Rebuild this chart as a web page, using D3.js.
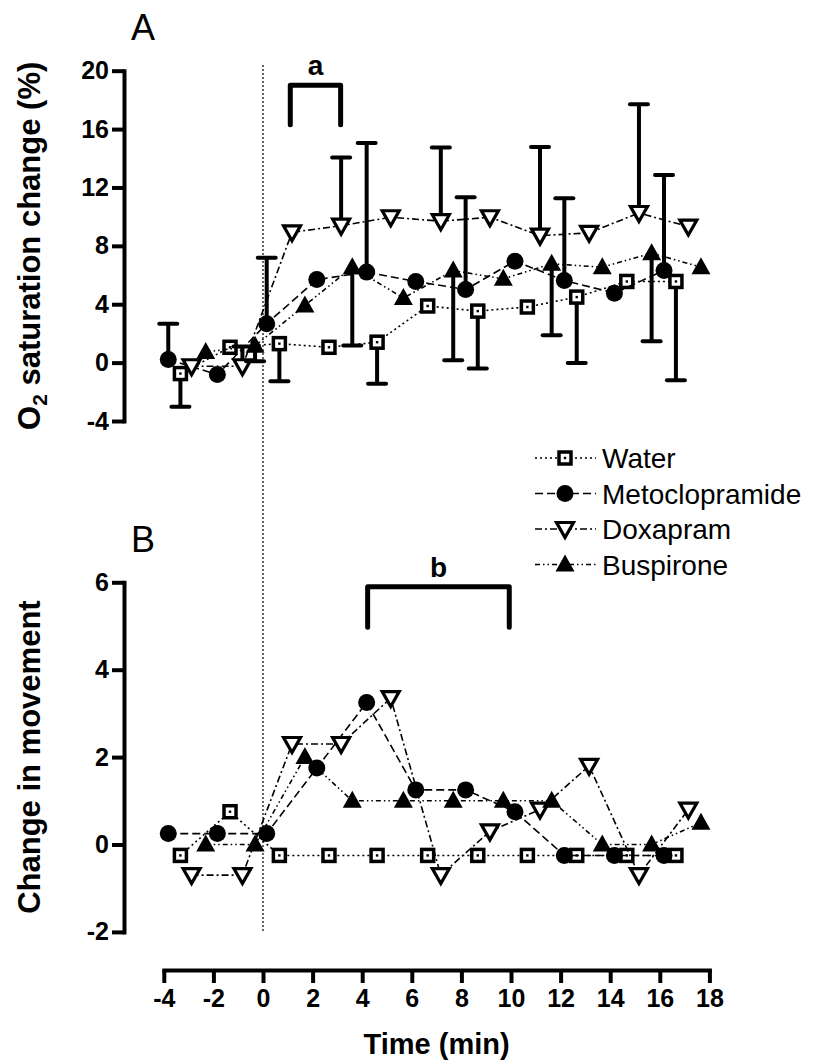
<!DOCTYPE html>
<html><head><meta charset="utf-8">
<script src="https://cdn.jsdelivr.net/npm/d3@7"></script>
<style>
body{margin:0;background:#fff;}
svg text{font-family:"Liberation Sans",Arial,sans-serif;fill:#000;}
</style></head>
<body>
<svg id="chart" width="829" height="1064"></svg>
<script>
// ---------- data ----------
const seriesNames = ["Water", "Metoclopramide", "Doxapram", "Buspirone"];
// plotted time positions (min), each group slightly offset as in the figure
const xWater = [-3.33,-1.33,0.66,2.66,4.6,6.64,8.66,10.66,12.65,14.67,16.65];
const xMet   = [-3.82,-1.84,0.15,2.17,4.18,6.16,8.17,10.16,12.15,14.17,16.17];
const xDox   = [-2.88,-0.83,1.17,3.15,5.15,7.17,9.15,11.17,13.15,15.16,17.15];
const xBus   = [-2.31,-0.32,1.69,3.6,5.66,7.67,9.69,11.64,13.68,15.67,17.66];
// Panel A: O2 saturation change (%)
const waterA = [-0.75,1.05,1.3,1.05,1.4,3.88,3.53,3.81,4.49,5.56,5.56];
const metA   = [0.21,-0.82,2.67,5.69,6.2,5.56,5.01,6.95,5.63,4.76,6.31];
const doxA   = [-0.25,-0.25,8.93,9.38,9.96,9.69,9.96,8.7,8.89,10.25,9.32];
const busA   = [0.73,1.15,3.92,6.54,4.42,6.31,5.74,6.77,6.54,7.5,6.54];
// one-sided error bars (SEM); Water & Buspirone drawn downward, Metoclopramide & Doxapram upward
const waterSemA = [2.28,null,2.58,null,2.84,null,3.94,null,4.51,null,6.77];
const metSemA   = [2.46,null,4.51,null,8.84,null,6.32,null,5.63,null,6.54];
const doxSemA   = [null,1.35,null,4.68,null,5.05,null,6.08,null,7.45,null];
const busSemA   = [null,1.06,null,5.36,null,6.15,null,4.9,null,6.04,null];
// Panel B: change in movement
const waterB = [-0.25,0.75,-0.25,-0.25,-0.25,-0.25,-0.25,-0.25,-0.25,-0.25,-0.25];
const metB   = [0.25,0.25,0.25,1.75,3.25,1.25,1.25,0.75,-0.25,-0.25,-0.25];
const doxB   = [-0.7,-0.7,2.3,2.3,3.35,-0.7,0.3,0.8,1.8,-0.7,0.8];
const busB   = [0,0,2,1,1,1,1,1,0,0,0.5];
// ticks
const xTicks = [-4,-2,0,2,4,6,8,10,12,14,16,18];
const yTicksA = [-4,0,4,8,12,16,20];
const yTicksB = [-2,0,2,4,6];
// significance brackets [x0, x1, yTop, yLegs]
const bracketA = [1.1, 3.13, 19.0, 16.3];
const bracketB = [4.22, 9.93, 5.9, 4.97];

// ---------- scales ----------
const svg = d3.select("#chart");
const x = d3.scaleLinear().domain([-4,18]).range([163.8,709.4]);
const yA = d3.scaleLinear().domain([-4,20]).range([421,70.7]);
const yB = d3.scaleLinear().domain([-2,6]).range([931.9,582.3]);
const axisX = 124;
const FONT = '"Liberation Sans",Arial,sans-serif';
const fmt = d => String(d);   // plain hyphen-minus like the original

const styles = {
  Water: {dash:"2,3", sym:"square"},
  Metoclopramide: {dash:"8,4", sym:"circle"},
  Doxapram: {dash:"7,3,2,3", sym:"tridown"},
  Buspirone: {dash:"5,3,1.5,3,1.5,3", sym:"triup"}
};

function drawSymbol(g, sym, cx, cy){
  if(sym==="square"){
    g.append("rect").attr("x",cx-6).attr("y",cy-6).attr("width",12).attr("height",12)
      .attr("fill","#fff").attr("stroke","#000").attr("stroke-width",3.5);
    g.append("rect").attr("x",cx-1.2).attr("y",cy-1.2).attr("width",2.4).attr("height",2.4).attr("fill","#000");
  } else if(sym==="circle"){
    g.append("circle").attr("cx",cx).attr("cy",cy).attr("r",8.5).attr("fill","#000");
  } else if(sym==="tridown"){
    const p = d3.path(); p.moveTo(cx-8.5,cy-6.5); p.lineTo(cx+8.5,cy-6.5); p.lineTo(cx,cy+8.5); p.closePath();
    g.append("path").attr("d",p.toString()).attr("fill","#fff").attr("stroke","#000").attr("stroke-width",3.2).attr("stroke-linejoin","miter");
  } else if(sym==="triup"){
    const p = d3.path(); p.moveTo(cx-9.5,cy+7); p.lineTo(cx+9.5,cy+7); p.lineTo(cx,cy-10); p.closePath();
    g.append("path").attr("d",p.toString()).attr("fill","#000");
  }
}

function drawSeries(g, name, xs, ys, y, sems, dir){
  const st = styles[name];
  const pts = xs.map((t,i)=>[x(t), y(ys[i])]);
  g.append("path").attr("d", d3.line()(pts)).attr("fill","none")
    .attr("stroke","#000").attr("stroke-width",1.6).attr("stroke-dasharray",st.dash);
  if(sems){
    sems.forEach((s,i)=>{
      if(s==null) return;
      const y0 = y(ys[i]), y1 = y(ys[i] + dir*s);
      g.append("line").attr("x1",x(xs[i])).attr("x2",x(xs[i])).attr("y1",y0).attr("y2",y1)
        .attr("stroke","#000").attr("stroke-width",4);
      g.append("line").attr("x1",x(xs[i])-9).attr("x2",x(xs[i])+9).attr("y1",y1).attr("y2",y1)
        .attr("stroke","#000").attr("stroke-width",4).attr("stroke-linecap","round");
    });
  }
  pts.forEach(p=>drawSymbol(g, st.sym, p[0], p[1]));
}

function yAxis(y, ticks){
  const g = svg.append("g").attr("transform",`translate(${axisX},0)`)
    .call(d3.axisLeft(y).tickValues(ticks).tickSize(12).tickSizeOuter(0).tickPadding(3).tickFormat(fmt));
  g.select(".domain").attr("stroke","#000").attr("stroke-width",4).attr("stroke-linecap","square");
  g.selectAll(".tick line").attr("stroke","#000").attr("stroke-width",4);
  g.selectAll(".tick text").attr("font-family",FONT).attr("font-size",25).attr("font-weight","bold").attr("fill","#000");
}

// dotted vertical reference line at time 0
svg.append("line").attr("x1",x(0)).attr("x2",x(0)).attr("y1",65).attr("y2",yB(-2))
  .attr("stroke","#000").attr("stroke-width",1.2).attr("stroke-dasharray","2,2");

// axes
yAxis(yA, yTicksA);
yAxis(yB, yTicksB);
const gx = svg.append("g").attr("transform","translate(0,970)")
  .call(d3.axisBottom(x).tickValues(xTicks).tickSize(13).tickSizeOuter(0).tickPadding(6).tickFormat(fmt));
gx.select(".domain").attr("stroke","#000").attr("stroke-width",4).attr("stroke-linecap","square");
gx.selectAll(".tick line").attr("stroke","#000").attr("stroke-width",4);
gx.selectAll(".tick text").attr("font-family",FONT).attr("font-size",25).attr("font-weight","bold").attr("fill","#000");

// axis titles
svg.append("text").attr("x",x(7)).attr("y",1054).attr("text-anchor","middle")
  .attr("font-size",29).attr("font-weight","bold").text("Time (min)");
const tA = svg.append("text").attr("transform",`translate(40,${(yA(-4)+yA(20))/2}) rotate(-90)`)
  .attr("text-anchor","middle").attr("font-size",31).attr("font-weight","bold");
tA.append("tspan").text("O");
tA.append("tspan").attr("font-size",21).attr("dy",7).text("2");
tA.append("tspan").attr("dy",-7).text(" saturation change (%)");
svg.append("text").attr("transform",`translate(40,${(yB(-2)+yB(6))/2}) rotate(-90)`)
  .attr("text-anchor","middle").attr("font-size",31).attr("font-weight","bold").text("Change in movement");

// panel letters
svg.append("text").attr("x",143).attr("y",40).attr("text-anchor","middle").attr("font-size",36).text("A");
svg.append("text").attr("x",143).attr("y",552).attr("text-anchor","middle").attr("font-size",36).text("B");

// series
const gA = svg.append("g"), gB = svg.append("g");
drawSeries(gA, "Water", xWater, waterA, yA, waterSemA, -1);
drawSeries(gA, "Metoclopramide", xMet, metA, yA, metSemA, 1);
drawSeries(gA, "Doxapram", xDox, doxA, yA, doxSemA, 1);
drawSeries(gA, "Buspirone", xBus, busA, yA, busSemA, -1);
drawSeries(gB, "Water", xWater, waterB, yB, null, 0);
drawSeries(gB, "Metoclopramide", xMet, metB, yB, null, 0);
drawSeries(gB, "Doxapram", xDox, doxB, yB, null, 0);
drawSeries(gB, "Buspirone", xBus, busB, yB, null, 0);

// significance brackets
function bracket(b, y, label){
  const p = d3.path();
  p.moveTo(x(b[0]), y(b[3])); p.lineTo(x(b[0]), y(b[2])); p.lineTo(x(b[1]), y(b[2])); p.lineTo(x(b[1]), y(b[3]));
  svg.append("path").attr("d",p.toString()).attr("fill","none").attr("stroke","#000")
    .attr("stroke-width",5).attr("stroke-linecap","round").attr("stroke-linejoin","round");
  svg.append("text").attr("x",(x(b[0])+x(b[1]))/2).attr("y",y(b[2])-10).attr("text-anchor","middle")
    .attr("font-size",28).attr("font-weight","bold").text(label);
}
bracket(bracketA, yA, "a");
bracket(bracketB, yB, "b");

// legend
const leg = svg.append("g");
seriesNames.forEach((n,i)=>{
  const cy = 458 + i*35.5;
  leg.append("line").attr("x1",535).attr("x2",596).attr("y1",cy).attr("y2",cy)
    .attr("stroke","#000").attr("stroke-width",1.6).attr("stroke-dasharray",styles[n].dash);
  drawSymbol(leg, styles[n].sym, 565, cy);
  leg.append("text").attr("x",602).attr("y",cy+10).attr("font-size",28).text(n);
});
</script>
</body></html>
